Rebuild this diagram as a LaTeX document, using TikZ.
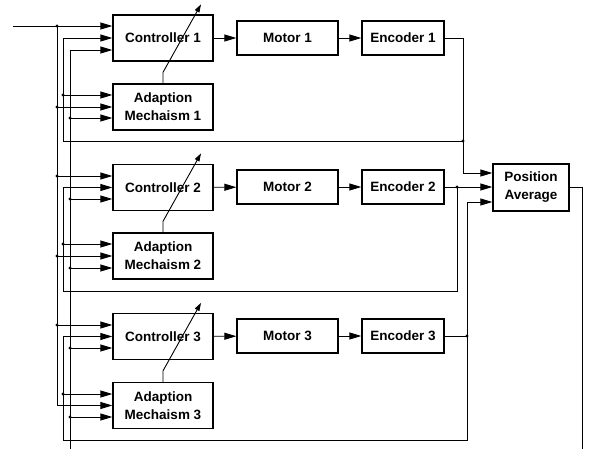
\documentclass[tikz,border=0pt]{standalone}
\usepackage{fontspec}
\setmainfont{Liberation Sans}
\usetikzlibrary{arrows.meta}
\tikzset{
  blk/.style={draw, line width=1.3pt, inner sep=0pt, align=center,
    font=\bfseries\fontsize{13.5}{18}\selectfont},
  arr/.style={line width=0.9pt, -{Triangle[length=12pt,width=7pt]}},
  ln/.style={line width=0.9pt},
  tune/.style={line width=0.9pt, -{Triangle[length=8pt,width=5pt]}},
  jdot/.style={fill, circle, inner sep=0pt, minimum size=3.2pt}
}
\begin{document}
\begin{tikzpicture}[x=1pt,y=-1pt]
\useasboundingbox (0,0) rectangle (590,449);
% blocks
\foreach \i/\cy/\ay/\my in {1/38/107/38, 2/187.5/256/187, 3/336.5/405.5/336}{
  \node[blk, minimum width=100pt, minimum height=46pt] (c\i) at (163,\cy) {Controller \i};
  \node[blk, minimum width=100pt, minimum height=46pt] (a\i) at (163,\ay) {Adaption\\Mechaism \i};
  \node[blk, minimum width=101pt, minimum height=34pt] (m\i) at (287.5,\my) {Motor \i};
  \node[blk, minimum width=82pt, minimum height=34pt] (e\i) at (403,\my) {Encoder \i};
  \draw[arr] (c\i) -- (m\i);
  \draw[arr] (m\i) -- (e\i);
}
\node[blk, minimum width=76pt, minimum height=47pt] (pa) at (531,187.5) {Position\\Average};

% tunable arrows
\foreach \i in {1,2,3}{
  \draw[tune] (a\i.north) -- ++(0,-11) -- ++(38,-68);
}

% reference input bus (x=57)
\coordinate (rin) at (13,26);
\coordinate (r1) at (57,26);
\draw[arr] (rin) -- ([yshift=12pt]c1.west);
\draw[arr] (r1) |- (a3.west);
\foreach \y/\t/\s in {107/a1/0, 256/a2/0, 176/c2/11.5, 325/c3/11.5}{
  \draw[arr] (57,\y) -- ([yshift=\s pt]\t.west);
  \node[jdot] at (57,\y) {};
}
\node[jdot] at (r1) {};

% position average feedback (x=70 and x=582)
\coordinate (fbR) at (582,449);
\coordinate (fbL) at (70,449);
\draw[ln] (pa.east) -| (fbR);
\draw[arr] (fbL) |- ([yshift=-12pt]c1.west);
\foreach \y/\t/\s in {118/a1/-11, 199/c2/-11.5, 268/a2/-12, 348/c3/-11.5, 417/a3/-11.5}{
  \draw[arr] (70,\y) -- ([yshift=\s pt]\t.west);
  \node[jdot] at (70,\y) {};
}

% row 1 local feedback
\coordinate (j1) at (463,141);
\coordinate (b1) at (63,141);
\draw[arr] (e1.east) -- (463,38) |- ([yshift=14.5pt]pa.west);
\draw[arr] (j1) -- (b1) |- (c1.west);
\draw[arr] (63,95) -- ([yshift=12pt]a1.west);
\node[jdot] at (j1) {};
\node[jdot] at (63,95) {};

% row 2 local feedback
\coordinate (j2) at (457,187);
\coordinate (b2) at (63,291);
\draw[arr] (e2.east) -- (pa.west |- e2.east);
\draw[arr] (j2) |- (b2) |- (c2.west);
\draw[arr] (63,244) -- ([yshift=12pt]a2.west);
\node[jdot] at (j2) {};
\node[jdot] at (63,244) {};

% row 3 local feedback
\coordinate (j3) at (467,336);
\coordinate (b3) at (63,440);
\draw[ln] (e3.east) -- (j3);
\draw[arr] (j3) |- ([yshift=-14.5pt]pa.west);
\draw[arr] (j3) |- (b3) |- (c3.west);
\draw[arr] (63,394) -- ([yshift=11.5pt]a3.west);
\node[jdot] at (j3) {};
\node[jdot] at (63,394) {};
\end{tikzpicture}
\end{document}
